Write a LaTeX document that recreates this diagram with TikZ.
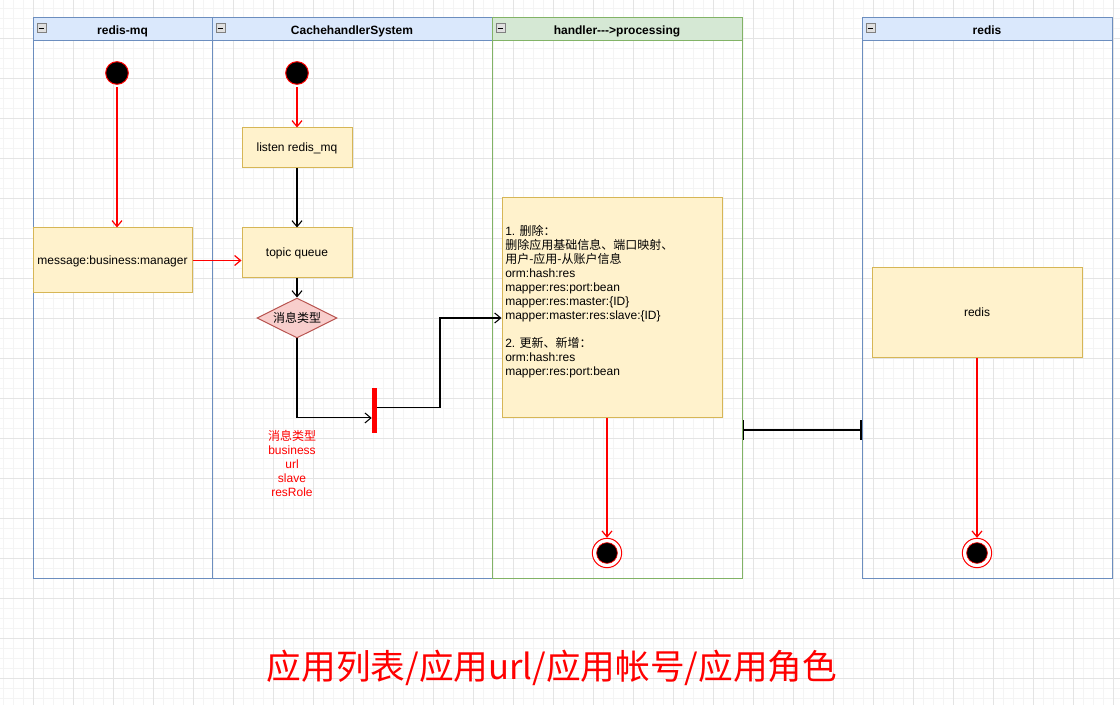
\documentclass[tikz,border=0pt]{standalone}
\usepackage{fontspec}
\setmainfont{Liberation Sans}
\newfontfamily\cjk{Noto Sans CJK SC}
\usetikzlibrary{arrows.meta,shapes.geometric}

\definecolor{laneblue}{HTML}{6C8EBF}
\definecolor{headblue}{HTML}{DAE8FC}
\definecolor{lanegreen}{HTML}{82B366}
\definecolor{headgreen}{HTML}{D5E8D4}
\definecolor{notefill}{HTML}{FFF2CC}
\definecolor{noteline}{HTML}{D6B656}
\definecolor{choicefill}{HTML}{F8CECC}
\definecolor{choiceline}{HTML}{B85450}
\definecolor{gridminor}{HTML}{F4F4F4}
\definecolor{gridmajor}{HTML}{E4E4E4}

\tikzset{
  lane/.style={draw=laneblue, line width=0.75pt, rectangle, inner sep=0, minimum height=420pt},
  lanehead/.style={draw=laneblue, fill=headblue, line width=0.75pt, inner sep=0,
    minimum height=17.25pt, text height=8pt, text depth=1pt,
    font=\bfseries\fontsize{9}{10}\selectfont},
  collapse/.style={draw=gray, fill=gray!25, line width=0.5pt, minimum size=6.75pt, inner sep=0,
    path picture={\draw[black, line width=0.6pt] ([xshift=1.4pt]path picture bounding box.west)
      -- ([xshift=-1.4pt]path picture bounding box.east);}},
  notebox/.style={draw=noteline, fill=notefill, line width=0.75pt, inner sep=0,
    text height=7pt, text depth=1.5pt, font=\fontsize{9}{10.5}\selectfont},
  choice/.style={diamond, aspect=2, draw=choiceline, fill=choicefill, line width=0.75pt,
    minimum width=60pt, minimum height=30pt, inner sep=0, font=\cjk\fontsize{9}{10}\selectfont},
  initial/.style={circle, draw=red, fill=black, line width=0.75pt, minimum size=17pt, inner sep=0},
  final/.style={circle, draw=red, fill=white, line width=0.75pt, minimum size=22pt, inner sep=0,
    path picture={\filldraw[fill=black, draw=red, line width=0.5pt]
      (path picture bounding box.center) circle (7.8pt);}},
  forkbar/.style={fill=red, minimum width=3.75pt, minimum height=33.75pt, inner sep=0},
  flow/.style={draw=black, line width=0.8pt, -{Straight Barb[length=4.5pt,width=7.5pt]}},
  redflow/.style={flow, draw=red, line width=0.9pt},
}

\begin{document}
\begin{tikzpicture}[x=0.75pt,y=-0.75pt]
  \useasboundingbox (0,0) rectangle (1120,705);
  \fill[white] (0,0) rectangle (1120,705);
  % background grid
  \foreach \x in {3,13,...,1113} \draw[gridminor, line width=0.5pt] (\x,0) -- (\x,705);
  \foreach \y in {8,18,...,698} \draw[gridminor, line width=0.5pt] (0,\y) -- (1120,\y);
  \foreach \x in {33,73,...,1113} \draw[gridmajor, line width=0.5pt] (\x,0) -- (\x,705);
  \foreach \y in {38,78,...,678} \draw[gridmajor, line width=0.5pt] (0,\y) -- (1120,\y);

  % swimlanes
  \node[lane, minimum width=134.25pt] (mqlane) at (122.5,298) {};
  \node[lane, minimum width=210pt] (syslane) at (352,298) {};
  \node[lane, draw=lanegreen, minimum width=187.5pt] (proclane) at (617,298) {};
  \node[lane, minimum width=187.5pt] (redislane) at (987,298) {};
  \node[lanehead, minimum width=134.25pt] (mqhead) at (122.5,29.5) {redis-mq};
  \node[lanehead, minimum width=210pt] (syshead) at (352,29.5) {CachehandlerSystem};
  \node[lanehead, draw=lanegreen, fill=headgreen, minimum width=187.5pt] (prochead) at (617,29.5) {handler{-}{-}{-}>processing};
  \node[lanehead, minimum width=187.5pt] (redishead) at (987,29.5) {redis};
  \foreach \h in {mqhead,syshead,prochead,redishead}
    \node[collapse, anchor=north west] (\h-icon) at ([xshift=3pt,yshift=-4.5pt]\h.north west) {};

  % states and actions
  \node[initial] (init1) at (117,73) {};
  \node[initial] (init2) at (297,73) {};
  \node[notebox, minimum width=82.5pt, minimum height=30pt] (listen) at (297,148) {listen redis\_mq};
  \node[notebox, minimum width=82.5pt, minimum height=37.5pt] (topic) at (297,253) {topic queue};
  \node[notebox, minimum width=119.25pt, minimum height=48.75pt] (msg) at (112.5,260.5) {message:business:manager};
  \node[choice] (kind) at (297,318) {消息类型};
  \node[forkbar] (bar) at (374.5,410.5) {};
  \node[text=red, align=center, font=\fontsize{9}{10.5}\selectfont] (kinds) at (292,463)
    {{\cjk 消息类型}\\business\\url\\slave\\resRole};
  \node[notebox, minimum width=165pt, minimum height=165pt] (proc) at (612,308) {};
  \node[anchor=north west, align=left, inner sep=0, font=\fontsize{9}{10.5}\selectfont] (proctext) at (505,225)
    {1. {\cjk 删除：}\\
     {\cjk 删除应用基础信息、端口映射、}\\
     {\cjk 用户-应用-从账户信息}\\
     orm:hash:res\\
     mapper:res:port:bean\\
     mapper:res:master:\{ID\}\\
     mapper:master:res:slave:\{ID\}\\[10.5pt]
     2. {\cjk 更新、新增：}\\
     orm:hash:res\\
     mapper:res:port:bean};
  \node[notebox, minimum width=157.5pt, minimum height=67.5pt] (redisbox) at (977,313) {redis};
  \node[final] (final1) at (607,553) {};
  \node[final] (final2) at (977,553) {};

  % connectors
  \draw[redflow, shorten <=2pt] (init1.south) -- (init1.south |- msg.north);
  \draw[redflow] (msg.east) -- (msg.east -| topic.west);
  \draw[redflow, shorten <=2pt] (init2) -- (listen);
  \draw[flow] (listen) -- (topic);
  \draw[flow] (topic) -- (kind);
  \draw[flow] (kind.south) |- ([yshift=-5.6pt]bar.west);
  \coordinate (elbow) at (440,318);
  \draw[flow] ([yshift=1.9pt]bar.east) -| (elbow) -- (elbow -| proc.west);
  \draw[redflow] (final1 |- proc.south) -- (final1);
  \draw[redflow] (redisbox) -- (final2);
  \coordinate (link) at (800,430);
  \draw[line width=0.8pt, {Bar[width=15pt]}-{Bar[width=15pt]}] (link -| proclane.east) -- (link -| redislane.west);

  \node[text=red, font=\cjk\fontsize{26}{30}\selectfont] (title) at (552,668) {应用列表/应用url/应用帐号/应用角色};
\end{tikzpicture}
\end{document}
